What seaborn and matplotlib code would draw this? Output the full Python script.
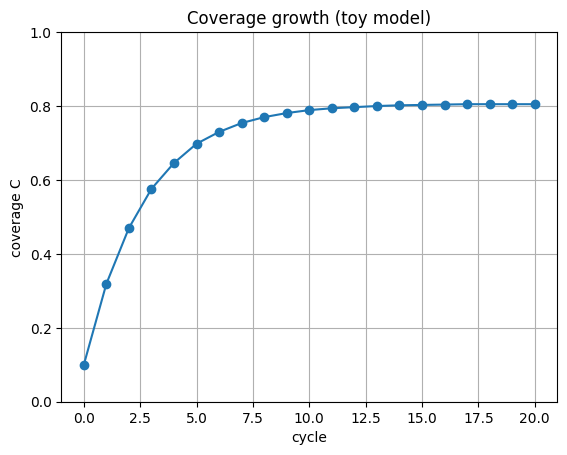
import matplotlib
matplotlib.use("Agg")
import matplotlib.pyplot as plt
import seaborn as sns
import pandas as pd

cycles = list(range(21))
coverage = [0.100, 0.319, 0.470, 0.576, 0.646, 0.698, 0.730, 0.754, 0.770, 0.781,
            0.789, 0.794, 0.797, 0.800, 0.802, 0.803, 0.804, 0.805, 0.805, 0.805, 0.805]

df = pd.DataFrame({"cycle": cycles, "coverage": coverage})

fig, ax = plt.subplots(figsize=(6.4, 4.8), dpi=100)
sns.lineplot(data=df, x="cycle", y="coverage", marker="o", markersize=6,
             markeredgewidth=1, markeredgecolor="#1f77b4", color="#1f77b4", ax=ax)
ax.set_ylim(0, 1.0)
ax.set_xlabel("cycle")
ax.set_ylabel("coverage C")
ax.set_title("Coverage growth (toy model)")
ax.grid(True)
fig.savefig("out.png", dpi=100, bbox_inches="tight")
